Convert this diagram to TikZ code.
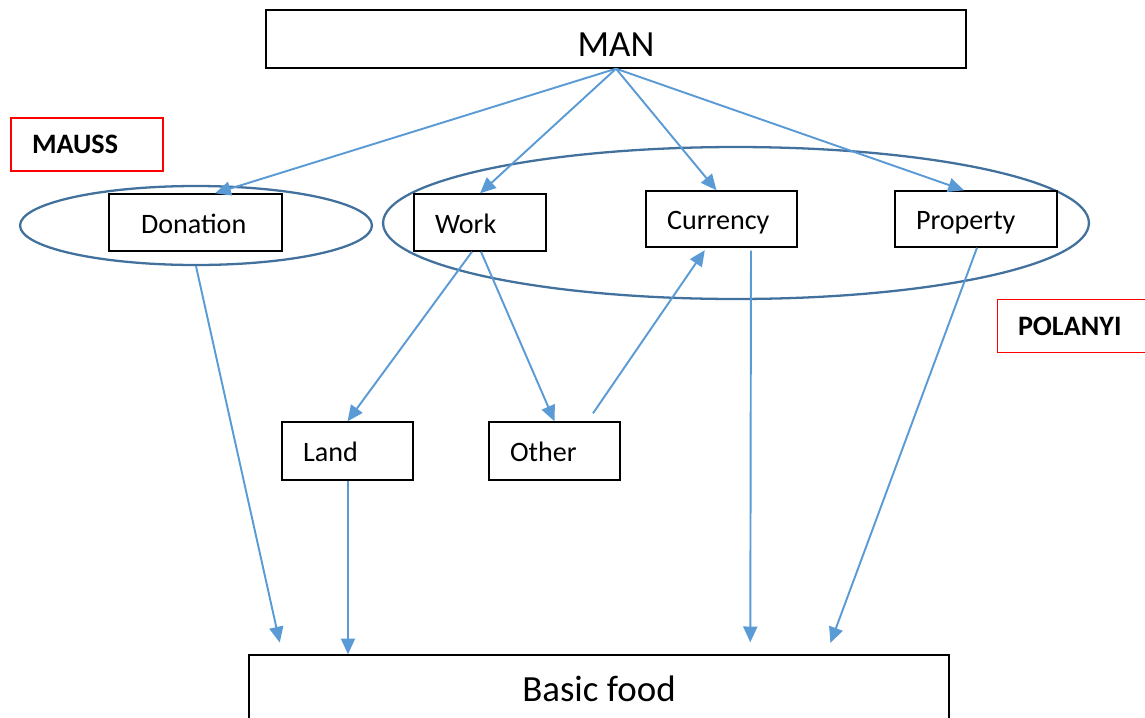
\documentclass[tikz,border=0pt]{standalone}
\usepackage{fontspec}
\setmainfont{Carlito}
\usetikzlibrary{shapes.geometric,arrows.meta}

\begin{document}
\begin{tikzpicture}[x=0.02cm,y=-0.02cm,
  box/.style={draw=black,line width=0.8pt,fill=white,minimum height=1.14cm,inner xsep=0.42cm,inner ysep=0pt,align=left,font=\fontsize{16}{19}\selectfont,text height=16pt,text depth=4pt},
  bigbox/.style={draw=black,line width=0.8pt,fill=white,minimum width=14cm,inner ysep=0pt,font=\fontsize{21}{25}\selectfont},
  tag/.style={draw=tagred,line width=0.6pt,minimum height=1.06cm,inner xsep=0.42cm,align=left,text width=2.2cm,font=\fontsize{16}{19}\selectfont\bfseries},
  ring/.style={ellipse,draw=ringblue,line width=1.3pt,inner sep=0pt},
  flow/.style={-{Triangle[length=9pt,width=8pt]},line width=1.1pt,draw=flowblue}]
% Define colours
\definecolor{flowblue}{RGB}{91,155,213}
\definecolor{ringblue}{RGB}{65,113,156}
\definecolor{tagred}{RGB}{255,0,0}

\clip (0,0) rectangle (1145,717);

% Draw groups
\node[ring,minimum width=7.04cm,minimum height=1.58cm] (donell) at (196,225.5) {};
\node[ring,minimum width=14.12cm,minimum height=3.04cm] (polell) at (736,223) {};

% Draw boxes
\node[bigbox,minimum height=1.16cm,text height=26pt,text depth=5.6pt] (man) at (616,39) {MAN};
\node[bigbox,minimum height=1.4cm,text height=20pt,text depth=6.5pt] (food) at (599,690) {Basic food};
\node[box,inner xsep=0.64cm,text width=2.18cm] (don) at (195.5,222.5) {Donation};
\node[box,text width=1.8cm] (work) at (480,222.5) {Work};
\node[box,minimum height=1.12cm,text width=2.18cm] (cur) at (721.5,219) {Currency};
\node[box,minimum height=1.12cm,text width=2.4cm] (prop) at (976,219) {Property};
\node[box,minimum height=1.16cm,text width=1.78cm] (land) at (347.5,451) {Land};
\node[box,minimum height=1.16cm,text width=1.78cm] (other) at (554.5,451) {Other};

% Add authors
\node[tag] (mauss) at (87,144.5) {MAUSS};
\node[tag] (polanyi) at (1073,326) {POLANYI};

% Draw links
\draw[flow] (man.south) -- ([xshift=0.39cm]don.north);
\draw[flow] (man.south) -- (work.north);
\draw[flow] (man.south) -- ([xshift=-0.1cm]cur.north);
\draw[flow] (man.south) -- ([xshift=-0.24cm]prop.north);
\draw[flow] ([xshift=-0.16cm]work.south) -- (land.north);
\draw[flow] ([xshift=0.02cm]work.south) -- (other.north);
\draw[flow,shorten >=0.06cm] ([xshift=0.77cm,yshift=0.16cm]other.north) -- ([xshift=-0.3cm]cur.south);
\draw[flow,shorten >=0.24cm] (donell.south) -- ([xshift=0.68cm]food.north west);
\draw[flow] ([xshift=0.01cm]land.south) -- ([xshift=0.01cm]land.south |- food.north);
\draw[flow,shorten >=0.24cm] ([xshift=0.59cm,yshift=-0.06cm]cur.south) -- ([xshift=10.04cm]food.north west);
\draw[flow,shorten >=0.24cm] ([xshift=0.02cm]prop.south) -- ([xshift=11.56cm]food.north west);
\end{tikzpicture}
\end{document}
